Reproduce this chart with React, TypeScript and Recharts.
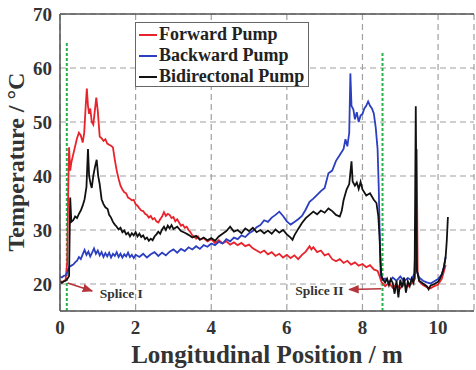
import React from 'react';
import { LineChart, Line, XAxis, YAxis, CartesianGrid, ReferenceLine, ReferenceDot } from 'recharts';

// [position m, temperature °C]
const forwardPump: [number, number][] = [
  [0, 20.6], [0.05, 20.4], [0.1, 20.5], [0.15, 20.8], [0.19, 24], [0.22, 38], [0.24, 45.3], [0.27, 41],
  [0.3, 42.5], [0.35, 44], [0.4, 45.5], [0.45, 47], [0.5, 48], [0.55, 47.5], [0.6, 46.2], [0.64, 48],
  [0.68, 53], [0.71, 56.2], [0.74, 53], [0.77, 51.5], [0.8, 52.5], [0.84, 50], [0.88, 49.5], [0.92, 52],
  [0.96, 54.5], [1.0, 52], [1.05, 47.3], [1.1, 47], [1.15, 46.5], [1.2, 46.8], [1.25, 46], [1.3, 45.8],
  [1.35, 45.6], [1.4, 45.3], [1.45, 43], [1.5, 41], [1.55, 39.5], [1.6, 38.2], [1.65, 37.5], [1.7, 37],
  [1.75, 36.8], [1.8, 36], [1.85, 35.8], [1.9, 35.5], [1.95, 35.6], [2.0, 34.8], [2.05, 34.5], [2.1, 34],
  [2.15, 33.6], [2.2, 33.5], [2.25, 33], [2.3, 32.8], [2.35, 32.3], [2.4, 32.6], [2.45, 32], [2.5, 32.2],
  [2.55, 31.6], [2.6, 31.4], [2.65, 32], [2.7, 32.5], [2.75, 33.3], [2.8, 32.6], [2.85, 33], [2.9, 32.8],
  [2.95, 32.2], [3.0, 32.4], [3.05, 31.6], [3.1, 32], [3.15, 31.4], [3.2, 30.8], [3.25, 31], [3.3, 30.4],
  [3.35, 30.6], [3.4, 30], [3.45, 29.6], [3.5, 29], [3.55, 28.8], [3.6, 28.4], [3.65, 28.8], [3.7, 28.2],
  [3.8, 28.5], [3.9, 27.9], [4.0, 28.3], [4.1, 27.6], [4.2, 28.1], [4.3, 27.5], [4.4, 27.9], [4.5, 27.3],
  [4.6, 27.7], [4.7, 27.2], [4.8, 27.6], [4.9, 27], [5.0, 27.3], [5.1, 26.6], [5.2, 26.2], [5.3, 25.8],
  [5.4, 26.2], [5.5, 25.5], [5.6, 25.9], [5.7, 25.2], [5.8, 25.6], [5.9, 24.9], [6.0, 25.4], [6.1, 24.8],
  [6.2, 25.3], [6.3, 24.6], [6.4, 25.4], [6.5, 26], [6.6, 27], [6.65, 26.4], [6.7, 26.8], [6.8, 25.9],
  [6.9, 26.2], [7.0, 25.3], [7.1, 25.6], [7.2, 24.6], [7.3, 24.2], [7.4, 24.6], [7.5, 23.9], [7.6, 24.3],
  [7.7, 23.6], [7.8, 24], [7.9, 23.4], [8.0, 23.7], [8.1, 23.1], [8.2, 23.5], [8.3, 22.7], [8.4, 22.4],
  [8.45, 21.5], [8.5, 20.4], [8.55, 20], [8.6, 19.6], [8.7, 20.2], [8.8, 19.3], [8.9, 19.9], [9.0, 19.2],
  [9.1, 20], [9.2, 19.5], [9.3, 20.1], [9.39, 21], [9.435, 45], [9.46, 22], [9.5, 20.5], [9.6, 19.8],
  [9.7, 19.4], [9.8, 19.2], [9.9, 19.6], [10.0, 19.9], [10.1, 21], [10.15, 22.2], [10.2, 23.5],
];

const backwardPump: [number, number][] = [
  [0, 21.4], [0.05, 21.2], [0.1, 21.5], [0.15, 21.6], [0.2, 22.3], [0.25, 23.2], [0.3, 23.4], [0.35, 23.6],
  [0.4, 24], [0.45, 24.3], [0.5, 25], [0.55, 24.6], [0.6, 25.5], [0.65, 26.3], [0.7, 25.4], [0.75, 26],
  [0.8, 25.1], [0.85, 25.8], [0.9, 26.6], [0.95, 25.6], [1.0, 26.2], [1.05, 25.3], [1.1, 25.9], [1.15, 25],
  [1.2, 25.7], [1.25, 25.1], [1.3, 25.8], [1.35, 24.9], [1.4, 25.6], [1.45, 25.2], [1.5, 25.9], [1.55, 25],
  [1.6, 25.6], [1.65, 24.9], [1.7, 25.5], [1.75, 25.1], [1.8, 25.8], [1.85, 25], [1.9, 25.4], [1.95, 24.8],
  [2.0, 25.4], [2.1, 25], [2.2, 25.6], [2.3, 24.9], [2.4, 25.5], [2.5, 25.9], [2.6, 25.2], [2.7, 25.8],
  [2.8, 25.3], [2.9, 26], [3.0, 26.4], [3.1, 25.8], [3.2, 26.5], [3.3, 26.1], [3.4, 26.8], [3.5, 26.4],
  [3.6, 27], [3.7, 26.5], [3.8, 27.2], [3.9, 26.9], [4.0, 27.5], [4.1, 27.2], [4.2, 27.8], [4.3, 27.5],
  [4.4, 28.3], [4.5, 27.9], [4.6, 28.6], [4.7, 28.3], [4.8, 29], [4.9, 28.7], [5.0, 29.4], [5.1, 29.8],
  [5.2, 30.5], [5.3, 30.9], [5.4, 31.8], [5.5, 31.5], [5.6, 32.3], [5.7, 32.8], [5.8, 33.4], [5.9, 32.6],
  [6.0, 31.6], [6.1, 31], [6.2, 31.5], [6.3, 32], [6.4, 32.6], [6.5, 33.8], [6.6, 35.2], [6.7, 35.8],
  [6.8, 36.5], [6.9, 37.2], [7.0, 37.8], [7.1, 40.5], [7.2, 41], [7.3, 42.8], [7.4, 43.9], [7.5, 45],
  [7.55, 46.8], [7.6, 45.5], [7.65, 48], [7.68, 59], [7.71, 53], [7.76, 52.3], [7.8, 50.5], [7.85, 51.8],
  [7.9, 50], [7.95, 51.2], [8.0, 51.5], [8.05, 52.5], [8.1, 53], [8.15, 53.8], [8.2, 53], [8.25, 52.5],
  [8.3, 51.6], [8.35, 49], [8.4, 45], [8.43, 38], [8.46, 28], [8.48, 22], [8.52, 20.8], [8.6, 21],
  [8.7, 20.3], [8.8, 21.2], [8.9, 20.6], [9.0, 21.4], [9.1, 20.5], [9.2, 21.1], [9.3, 20.7], [9.37, 22],
  [9.4, 26.5], [9.43, 22.5], [9.5, 21.2], [9.6, 20.6], [9.7, 20.3], [9.8, 20.1], [9.9, 20.5], [10.0, 20.9],
  [10.1, 21.8], [10.15, 23], [10.2, 25],
];

const bidirectionalPump: [number, number][] = [
  [0, 20.4], [0.05, 20.2], [0.1, 20.5], [0.15, 20.6], [0.2, 21], [0.24, 21.5], [0.27, 36], [0.3, 31.5],
  [0.35, 31.8], [0.4, 32.5], [0.45, 32.2], [0.5, 33], [0.55, 33.6], [0.6, 34.5], [0.65, 35.7], [0.7, 38],
  [0.74, 45], [0.77, 40], [0.81, 38.5], [0.84, 37.8], [0.88, 40], [0.92, 41.5], [0.97, 43], [1.01, 40],
  [1.05, 38.5], [1.1, 35.7], [1.15, 34.8], [1.2, 34.2], [1.26, 33.9], [1.3, 32.8], [1.35, 32.3], [1.4, 31.5],
  [1.45, 31], [1.5, 30.6], [1.55, 30.1], [1.6, 30.4], [1.65, 29.6], [1.7, 29.9], [1.75, 29.2], [1.8, 29.5],
  [1.85, 28.8], [1.9, 29.4], [1.95, 29], [2.0, 29.6], [2.05, 28.8], [2.1, 29.3], [2.15, 28.7], [2.2, 29],
  [2.25, 28.3], [2.3, 28.6], [2.35, 28], [2.4, 28.4], [2.45, 28.1], [2.5, 28.8], [2.55, 29.2], [2.6, 29.7],
  [2.65, 29.3], [2.7, 30.1], [2.75, 30.6], [2.8, 30], [2.85, 30.8], [2.9, 30.3], [2.95, 30.9], [3.0, 30.2],
  [3.1, 30.6], [3.2, 29.8], [3.3, 29.5], [3.4, 29.1], [3.5, 28.6], [3.6, 28.9], [3.7, 28.2], [3.8, 28.6],
  [3.9, 28.1], [4.0, 28.5], [4.1, 28], [4.2, 28.8], [4.3, 29.3], [4.4, 29.8], [4.5, 30.6], [4.6, 29.7],
  [4.7, 30], [4.8, 29.4], [4.9, 30.3], [5.0, 29.8], [5.1, 30.4], [5.2, 29.6], [5.3, 30], [5.4, 29.4],
  [5.5, 29.9], [5.6, 29.3], [5.7, 30.1], [5.8, 29.5], [5.9, 30], [6.0, 29.2], [6.1, 28.6], [6.15, 28.2],
  [6.2, 29], [6.3, 30.2], [6.4, 31.3], [6.5, 32.2], [6.6, 32.8], [6.7, 33.4], [6.8, 32.9], [6.9, 33.6],
  [7.0, 33.2], [7.1, 34], [7.2, 33.5], [7.3, 32.8], [7.4, 32.5], [7.45, 33.5], [7.5, 35.5], [7.58, 37.5],
  [7.65, 38.5], [7.71, 42.7], [7.74, 39], [7.8, 38.2], [7.85, 38.8], [7.9, 37.6], [7.95, 38.9], [8.0, 37.5],
  [8.1, 36.4], [8.2, 36.8], [8.3, 35.6], [8.37, 35], [8.42, 32.5], [8.45, 29], [8.48, 24], [8.5, 21.5],
  [8.55, 20.8], [8.6, 20.3], [8.65, 21], [8.7, 19.8], [8.75, 20.9], [8.8, 20.2], [8.85, 18.2], [8.9, 20.6],
  [8.95, 17.5], [9.0, 20.8], [9.05, 19.4], [9.1, 21.2], [9.15, 18.4], [9.2, 20.5], [9.25, 19.6], [9.3, 21],
  [9.35, 20.2], [9.38, 22], [9.41, 52.9], [9.44, 22.5], [9.5, 20.6], [9.6, 20.1], [9.7, 19.6], [9.75, 19],
  [9.8, 19.7], [9.9, 20], [10.0, 20.4], [10.05, 21], [10.1, 21.8], [10.15, 23], [10.2, 25], [10.23, 28],
  [10.26, 32.4],
];

const xTicks = [0, 2, 4, 6, 8, 10];
const yTicks = [20, 30, 40, 50, 60, 70];
const seriesNames = ['Forward Pump', 'Backward Pump', 'Bidirectonal Pump'];
const spliceNames = ['Splice I', 'Splice II'];

const RED = '#e8232b';
const BLUE = '#2b3fc0';
const BLACK = '#111111';
const GREEN = '#27b24a';
const ARROW = '#b5333a';
const SERIF = '"Liberation Serif", "Times New Roman", serif';

const toRows = (pts: [number, number][]) => pts.map(([x, t]) => ({ x, t }));

const tickStyle = { fontSize: 19, fontWeight: 700, fill: '#333', fontFamily: SERIF };
const spliceStyle = { fontSize: 13.5, fontWeight: 700, fill: '#333', fontFamily: SERIF };

export default function App() {
  const series = [
    { name: seriesNames[0], color: RED, data: toRows(forwardPump) },
    { name: seriesNames[1], color: BLUE, data: toRows(backwardPump) },
    { name: seriesNames[2], color: BLACK, data: toRows(bidirectionalPump) },
  ];

  return (
    <div style={{ position: 'absolute', left: 0, top: 0, width: 476, height: 370, background: '#fff' }}>
      <LineChart width={476} height={370} margin={{ top: 14, right: 2, bottom: 0, left: 0 }}>
        <defs>
          <marker id="arrowHead" viewBox="0 0 10 8" refX="9" refY="4" markerWidth="7" markerHeight="6" orient="auto">
            <path d="M0,0 L10,4 L0,8 z" fill={ARROW} />
          </marker>
        </defs>
        <CartesianGrid stroke="#a0a0a0" strokeDasharray="6 4" strokeWidth={1.2} />
        <XAxis
          type="number"
          dataKey="x"
          domain={[0, 10.95]}
          ticks={xTicks}
          allowDataOverflow
          height={59}
          tickLine={false}
          tickMargin={4}
          stroke="#555"
          strokeWidth={1.5}
          tick={tickStyle}
          label={{
            value: 'Longitudinal Position / m',
            position: 'insideBottom',
            offset: 7,
            style: { fontSize: 25, fontWeight: 700, fill: '#333', fontFamily: SERIF },
          }}
        />
        <YAxis
          type="number"
          domain={[15, 70]}
          ticks={yTicks}
          allowDataOverflow
          width={60}
          tickLine={false}
          stroke="#555"
          strokeWidth={1.5}
          tick={tickStyle}
          label={{
            content: () => (
              <text
                x={16}
                y={162}
                transform="rotate(-90 16 162)"
                textAnchor="middle"
                dominantBaseline="central"
                style={{ fontSize: 24, fontWeight: 700, fill: '#333', fontFamily: SERIF }}
              >
                Temperature / °C
              </text>
            ),
          }}
        />
        <ReferenceLine y={70} stroke="#555" strokeWidth={1.5} />
        <ReferenceLine
          segment={[{ x: 0.18, y: 15 }, { x: 0.18, y: 64.7 }]}
          stroke={GREEN}
          strokeWidth={2}
          strokeDasharray="3 2"
        />
        <ReferenceLine
          segment={[{ x: 8.53, y: 15 }, { x: 8.53, y: 63 }]}
          stroke={GREEN}
          strokeWidth={2}
          strokeDasharray="3 2"
        />
        {series.map((s) => (
          <Line
            key={s.name}
            data={s.data}
            dataKey="t"
            name={s.name}
            stroke={s.color}
            strokeWidth={1.8}
            dot={false}
            type="linear"
            isAnimationActive={false}
          />
        ))}
        <ReferenceLine
          segment={[{ x: 0.2, y: 20.2 }, { x: 0.85, y: 18.7 }]}
          stroke={ARROW}
          strokeWidth={1.5}
          markerEnd="url(#arrowHead)"
        />
        <ReferenceLine
          segment={[{ x: 8.5, y: 19.1 }, { x: 7.65, y: 19.0 }]}
          stroke={ARROW}
          strokeWidth={1.5}
          markerEnd="url(#arrowHead)"
        />
        <ReferenceDot
          x={1.05}
          y={18.3}
          r={0}
          fill="none"
          stroke="none"
          label={{ value: spliceNames[0], position: 'right', offset: 0, style: spliceStyle }}
        />
        <ReferenceDot
          x={6.22}
          y={18.8}
          r={0}
          fill="none"
          stroke="none"
          label={{ value: spliceNames[1], position: 'right', offset: 0, style: spliceStyle }}
        />
      </LineChart>
      <div
        style={{
          position: 'absolute',
          left: 135,
          top: 22,
          width: 174,
          height: 65,
          border: '1.5px solid #666',
          background: '#fff',
          boxSizing: 'border-box',
          padding: '1px 0 0 3px',
          fontFamily: SERIF,
          fontWeight: 700,
          fontSize: 18,
          color: '#222',
        }}
      >
        {series.map((s) => (
          <div key={s.name} style={{ display: 'flex', alignItems: 'center', height: 21, lineHeight: '21px' }}>
            <span style={{ display: 'inline-block', width: 18, height: 2, background: s.color, marginRight: 2 }} />
            <span>{s.name}</span>
          </div>
        ))}
      </div>
    </div>
  );
}
